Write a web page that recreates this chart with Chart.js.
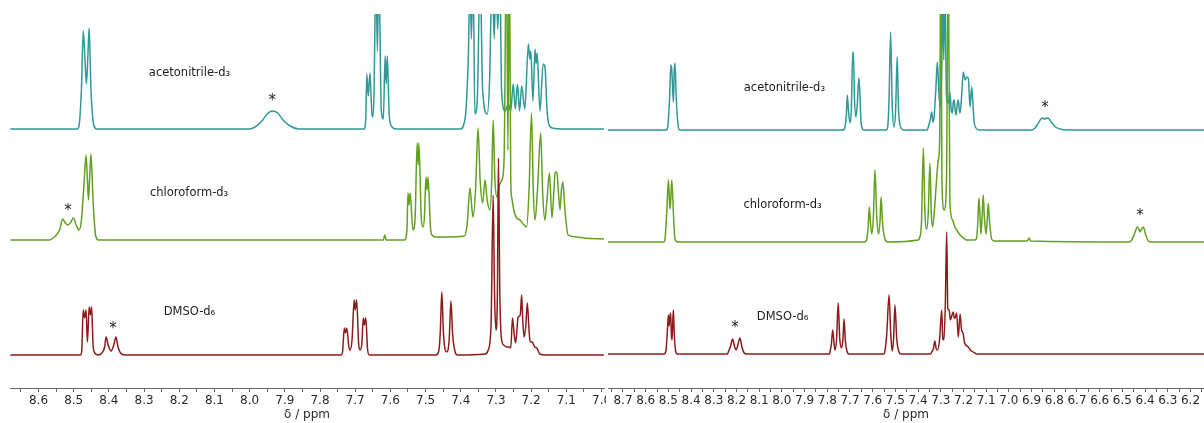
<!DOCTYPE html>
<html>
<head>
<meta charset="utf-8">
<script src="https://cdn.jsdelivr.net/npm/chart.js@4.4.1/dist/chart.umd.min.js"></script>
<style>
  html, body { margin: 0; padding: 0; background: #fff; }
  #wrap { position: relative; width: 1204px; height: 423px; overflow: hidden; }
  #left { position: absolute; left: 0; top: 0; }
  #right { position: absolute; left: 606px; top: 0; background: #fff; }
</style>
</head>
<body>
<div id="wrap">
  <canvas id="left" width="620" height="423"></canvas>
  <canvas id="right" width="598" height="423"></canvas>
</div>
<script>
// [ppm, intensity above baseline]
const leftAcn = [
  [8.68,0],[8.49,0],[8.485,3],[8.478,40],[8.473,98],[8.468,70],[8.464,45],[8.460,70],[8.456,101],[8.451,40],[8.443,4],[8.435,0],
  [8.00,0],[7.985,2],[7.965,8],[7.950,15],[7.936,18],[7.920,16],[7.905,9],[7.885,3],[7.860,0],
  [7.675,0],[7.670,10],[7.667,55],[7.663,33],[7.658,56],[7.652,12],[7.647,30],[7.641,160],[7.637,78],[7.633,160],[7.626,20],[7.620,10],
  [7.615,73],[7.612,45],[7.609,73],[7.603,12],[7.595,2],[7.585,0],
  [7.400,0],[7.392,4],[7.385,20],[7.378,80],[7.374,160],[7.370,90],[7.365,160],[7.360,15],[7.353,30],[7.345,160],[7.338,40],[7.325,15],
  [7.318,50],[7.311,160],[7.305,90],[7.300,160],[7.295,100],[7.289,160],[7.284,38],[7.274,18],[7.265,25],[7.258,18],[7.251,45],[7.245,20],
  [7.239,45],[7.233,18],[7.227,43],[7.218,20],[7.208,85],[7.204,70],[7.201,78],[7.195,28],[7.189,80],[7.186,65],[7.183,76],[7.175,18],
  [7.166,65],[7.161,63],[7.155,20],[7.150,5],[7.140,1],[7.100,0],[6.99,0]
];
const leftChl = [
  [8.68,0],[8.570,0],[8.555,3],[8.540,10],[8.531,21],[8.524,17],[8.516,15],[8.508,18],[8.501,22],[8.493,15],[8.485,10],[8.478,20],
  [8.470,60],[8.465,85],[8.461,60],[8.458,40],[8.455,60],[8.451,86],[8.445,40],[8.438,5],[8.430,0],
  [7.620,0],[7.616,5],[7.612,0],
  [7.560,0],[7.553,10],[7.550,47],[7.547,35],[7.544,47],[7.536,10],[7.530,20],[7.524,97],[7.521,75],[7.519,97],[7.512,20],[7.507,13],
  [7.503,25],[7.499,63],[7.496,50],[7.493,63],[7.486,12],[7.482,5],[7.470,3],[7.440,3],
  [7.390,4],[7.382,15],[7.374,52],[7.368,30],[7.365,23],[7.358,50],[7.351,112],[7.345,60],[7.338,37],[7.331,60],[7.325,40],[7.317,30],
  [7.312,60],[7.308,120],[7.303,60],[7.297,43],[7.290,55],[7.283,60],[7.277,80],[7.270,300],[7.266,90],[7.262,300],[7.258,60],[7.255,42],
  [7.248,28],[7.241,22],[7.232,20],[7.220,15],[7.213,13],[7.206,50],[7.199,127],[7.194,50],[7.189,20],[7.182,50],[7.173,107],[7.167,45],
  [7.161,20],[7.155,40],[7.148,67],[7.141,22],[7.136,45],[7.132,67],[7.127,68],[7.122,45],[7.118,30],[7.114,50],[7.110,58],[7.104,30],
  [7.095,5],[7.070,3],[7.050,2],[6.99,1]
];
const leftDmso = [
  [8.68,0],[8.480,0],[8.477,5],[8.473,45],[8.469,37],[8.465,45],[8.461,13],[8.456,48],[8.452,40],[8.449,48],[8.445,10],[8.440,2],[8.430,0],
  [8.420,2],[8.412,8],[8.408,18],[8.402,10],[8.394,4],[8.386,10],[8.380,18],[8.374,8],[8.364,1],[8.350,0],
  [7.740,0],[7.736,3],[7.731,27],[7.728,22],[7.724,27],[7.718,8],[7.715,5],[7.709,15],[7.703,55],[7.700,45],[7.696,55],[7.690,10],
  [7.686,5],[7.681,12],[7.677,37],[7.674,30],[7.670,37],[7.665,6],[7.660,0],
  [7.470,0],[7.462,5],[7.458,25],[7.454,63],[7.449,20],[7.440,3],[7.433,15],[7.428,54],[7.423,20],[7.416,3],[7.410,0],
  [7.330,1],[7.322,5],[7.314,30],[7.308,160],[7.304,60],[7.300,25],[7.296,60],[7.293,197],[7.289,60],[7.284,15],[7.278,10],[7.270,8],
  [7.262,8],[7.258,7],[7.253,37],[7.248,20],[7.244,12],[7.237,38],[7.231,40],[7.227,60],[7.224,35],[7.220,18],[7.215,30],[7.211,52],
  [7.206,25],[7.203,13],[7.197,13],[7.190,8],[7.184,7],[7.175,1],[7.160,0],[6.99,0]
];
const rightAcn = [
  [8.77,0],[8.510,0],[8.503,3],[8.495,30],[8.489,65],[8.485,60],[8.478,28],[8.474,60],[8.471,67],[8.465,30],[8.456,3],[8.450,0],
  [7.730,0],[7.722,3],[7.716,15],[7.712,35],[7.707,20],[7.700,7],[7.694,20],[7.688,78],[7.685,78],[7.680,30],[7.674,13],[7.668,25],
  [7.661,52],[7.657,40],[7.652,10],[7.646,2],[7.640,0],
  [7.540,0],[7.534,3],[7.528,30],[7.521,98],[7.514,25],[7.506,3],[7.499,20],[7.492,73],[7.486,20],[7.475,2],[7.465,0],
  [7.360,0],[7.355,3],[7.345,12],[7.340,18],[7.335,8],[7.330,12],[7.322,40],[7.315,68],[7.309,40],[7.303,23],[7.296,60],[7.292,140],
  [7.287,70],[7.282,140],[7.275,35],[7.267,27],[7.260,38],[7.254,20],[7.249,17],[7.245,28],[7.241,30],[7.237,20],[7.233,15],[7.228,25],
  [7.223,30],[7.219,22],[7.215,17],[7.208,35],[7.201,58],[7.193,50],[7.186,53],[7.179,52],[7.171,23],[7.164,43],[7.158,25],[7.154,10],
  [7.145,2],[7.130,0],
  [6.900,0],[6.885,2],[6.875,5],[6.862,10],[6.852,12],[6.842,11],[6.832,12],[6.822,11],[6.810,7],[6.795,3],[6.775,1],[6.740,0],[6.14,0]
];
const rightChl = [
  [8.77,0],[8.520,0],[8.515,3],[8.507,30],[8.500,62],[8.496,45],[8.493,33],[8.489,45],[8.485,62],[8.478,30],[8.471,3],[8.460,0],
  [7.635,0],[7.626,3],[7.620,15],[7.615,35],[7.610,20],[7.604,8],[7.597,25],[7.590,72],[7.582,25],[7.574,8],[7.568,20],[7.563,45],
  [7.557,20],[7.546,3],[7.535,0],
  [7.400,2],[7.392,5],[7.385,20],[7.377,94],[7.370,30],[7.362,13],[7.355,30],[7.348,79],[7.342,30],[7.336,15],[7.327,35],[7.318,64],
  [7.311,82],[7.305,100],[7.300,300],[7.295,60],[7.285,32],[7.275,60],[7.267,300],[7.260,40],[7.248,22],[7.238,15],[7.230,12],[7.215,7],
  [7.200,4],[7.186,2],[7.150,2],[7.142,4],[7.137,20],[7.132,44],[7.127,25],[7.123,8],[7.118,25],[7.113,47],[7.108,25],[7.101,8],
  [7.096,20],[7.091,39],[7.085,20],[7.076,3],[7.065,1],[6.920,1],[6.910,4],[6.905,1],
  [6.470,0],[6.459,2],[6.447,8],[6.434,15],[6.428,13],[6.422,10],[6.415,13],[6.408,15],[6.397,7],[6.386,1],[6.370,0],[6.14,0]
];
const rightDmso = [
  [8.77,0],[8.520,0],[8.511,3],[8.504,25],[8.500,39],[8.497,28],[8.494,35],[8.490,41],[8.487,20],[8.484,14],[8.481,30],[8.478,44],
  [8.474,20],[8.468,3],[8.460,0],
  [8.240,0],[8.236,2],[8.226,8],[8.217,15],[8.208,7],[8.202,4],[8.195,8],[8.185,16],[8.176,7],[8.166,1],[8.155,0],
  [7.790,0],[7.788,2],[7.782,10],[7.776,24],[7.770,10],[7.766,4],[7.759,15],[7.752,51],[7.745,15],[7.737,6],[7.731,15],[7.726,35],
  [7.720,12],[7.712,2],[7.705,0],
  [7.550,0],[7.546,3],[7.538,20],[7.528,59],[7.520,18],[7.514,3],[7.508,15],[7.502,49],[7.494,15],[7.484,2],[7.475,0],
  [7.345,0],[7.340,2],[7.333,5],[7.326,13],[7.320,5],[7.314,4],[7.305,15],[7.296,44],[7.291,15],[7.286,14],[7.280,50],[7.274,122],
  [7.269,45],[7.263,44],[7.258,34],[7.252,38],[7.245,42],[7.241,36],[7.237,36],[7.230,41],[7.223,17],[7.215,40],[7.209,25],[7.205,22],
  [7.201,20],[7.196,12],[7.190,9],[7.179,7],[7.170,4],[7.164,3],[7.150,1],[7.142,0],[6.14,0]
];

// axis ticks (labelled) and the unlabelled ones between them
const leftTickLabels = [8.6, 8.5, 8.4, 8.3, 8.2, 8.1, 8.0, 7.9, 7.8, 7.7, 7.6, 7.5, 7.4, 7.3, 7.2, 7.1, 7.0];
const leftMinorTicks = [8.65, 8.55, 8.45, 8.35, 8.25, 8.15, 8.05, 7.95, 7.85, 7.75, 7.65, 7.55, 7.45, 7.35, 7.25, 7.15, 7.05];
const rightTickLabels = [8.7, 8.6, 8.5, 8.4, 8.3, 8.2, 8.1, 8.0, 7.9, 7.8, 7.7, 7.6, 7.5, 7.4, 7.3, 7.2, 7.1, 7.0, 6.9, 6.8, 6.7, 6.6, 6.5, 6.4, 6.3, 6.2];
const rightMinorTicks = [8.75, 8.65, 8.55, 8.45, 8.35, 8.25, 8.15, 8.05, 7.95, 7.85, 7.75, 7.65, 7.55, 7.45, 7.35, 7.25, 7.15, 7.05, 6.95, 6.85, 6.75, 6.65, 6.55, 6.45, 6.35, 6.25, 6.15];

const solventNames = ['acetonitrile-d₃', 'chloroform-d₃', 'DMSO-d₆'];

const colors = { acn: '#2f9997', chl: '#62a022', dmso: '#8e1b1b' };
const FONT = "'DejaVu Sans', Verdana, sans-serif";

// stacking: vertical offset of each trace, and where its text goes
const leftPanel = {
  canvas: 'left', min: 6.993, max: 8.681, pad: { left: 10, right: 16, top: 14, bottom: 0 },
  traces: [leftDmso, leftChl, leftAcn], offsets: [33, 148, 259],
  ticks: leftTickLabels, minor: leftMinorTicks,
  names: [[8.171, 315], [8.172, 195], [8.171, 76]],
  stars: [[7.936, 290], [8.516, 180], [8.388, 62]]
};
const rightPanel = {
  canvas: 'right', min: 6.1405, max: 8.766, pad: { left: 2, right: 0, top: 14, bottom: 0 },
  traces: [rightDmso, rightChl, rightAcn], offsets: [34, 146, 258],
  ticks: rightTickLabels, minor: rightMinorTicks,
  names: [[7.989, 300], [7.997, 183], [7.997, 71]],
  stars: [[6.841, 283], [6.422, 175], [8.207, 63]]
};

const textPlugin = {
  id: 'solventText',
  afterDatasetsDraw(chart, args, opts) {
    const { ctx, scales: { x, y } } = chart;
    ctx.save();
    ctx.fillStyle = '#1c1c1c';
    ctx.textAlign = 'center';
    ctx.textBaseline = 'middle';
    ctx.font = '11.5px ' + FONT;
    opts.names.forEach(([p, v], i) => ctx.fillText(solventNames[i], x.getPixelForValue(p), y.getPixelForValue(v)));
    ctx.font = '15px ' + FONT;
    opts.stars.forEach(([p, v]) => ctx.fillText('*', x.getPixelForValue(p), y.getPixelForValue(v) + 3));
    ctx.restore();
  }
};

function makeChart(panel) {
  const cols = [colors.dmso, colors.chl, colors.acn];
  const datasets = panel.traces.map((tr, i) => ({
    data: tr.map(([p, v]) => ({ x: p, y: v + panel.offsets[i] })),
    borderColor: cols[i],
    borderWidth: 1.5,
    pointRadius: 0,
    cubicInterpolationMode: 'monotone',
    fill: false
  }));
  const allTicks = panel.ticks.concat(panel.minor).sort((a, b) => b - a);

  return new Chart(document.getElementById(panel.canvas), {
    type: 'line',
    data: { datasets },
    plugins: [textPlugin],
    options: {
      responsive: false,
      animation: false,
      devicePixelRatio: 1,
      layout: { padding: panel.pad },
      plugins: {
        legend: { display: false },
        tooltip: { enabled: false },
        solventText: { names: panel.names, stars: panel.stars }
      },
      scales: {
        x: {
          type: 'linear',
          reverse: true,
          min: panel.min,
          max: panel.max,
          afterBuildTicks: (s) => { s.ticks = allTicks.map(v => ({ value: v })); },
          afterFit: (s) => { s.height = 35; },
          grid: { drawOnChartArea: false, drawTicks: true, tickLength: 4, color: '#666' },
          border: { color: '#666', width: 1 },
          ticks: {
            autoSkip: false,
            maxRotation: 0,
            padding: 2,
            color: '#2a2a2a',
            font: { family: FONT, size: 12 },
            callback: (v) => panel.ticks.some(t => Math.abs(t - v) < 1e-6) ? v.toFixed(1) : ''
          },
          title: {
            display: true,
            text: 'δ / ppm',
            color: '#2a2a2a',
            font: { family: FONT, size: 12 },
            padding: { top: 0, bottom: 1 }
          }
        },
        y: { display: false, min: 0, max: 374 }
      }
    }
  });
}

makeChart(leftPanel);
makeChart(rightPanel);
</script>
</body>
</html>
